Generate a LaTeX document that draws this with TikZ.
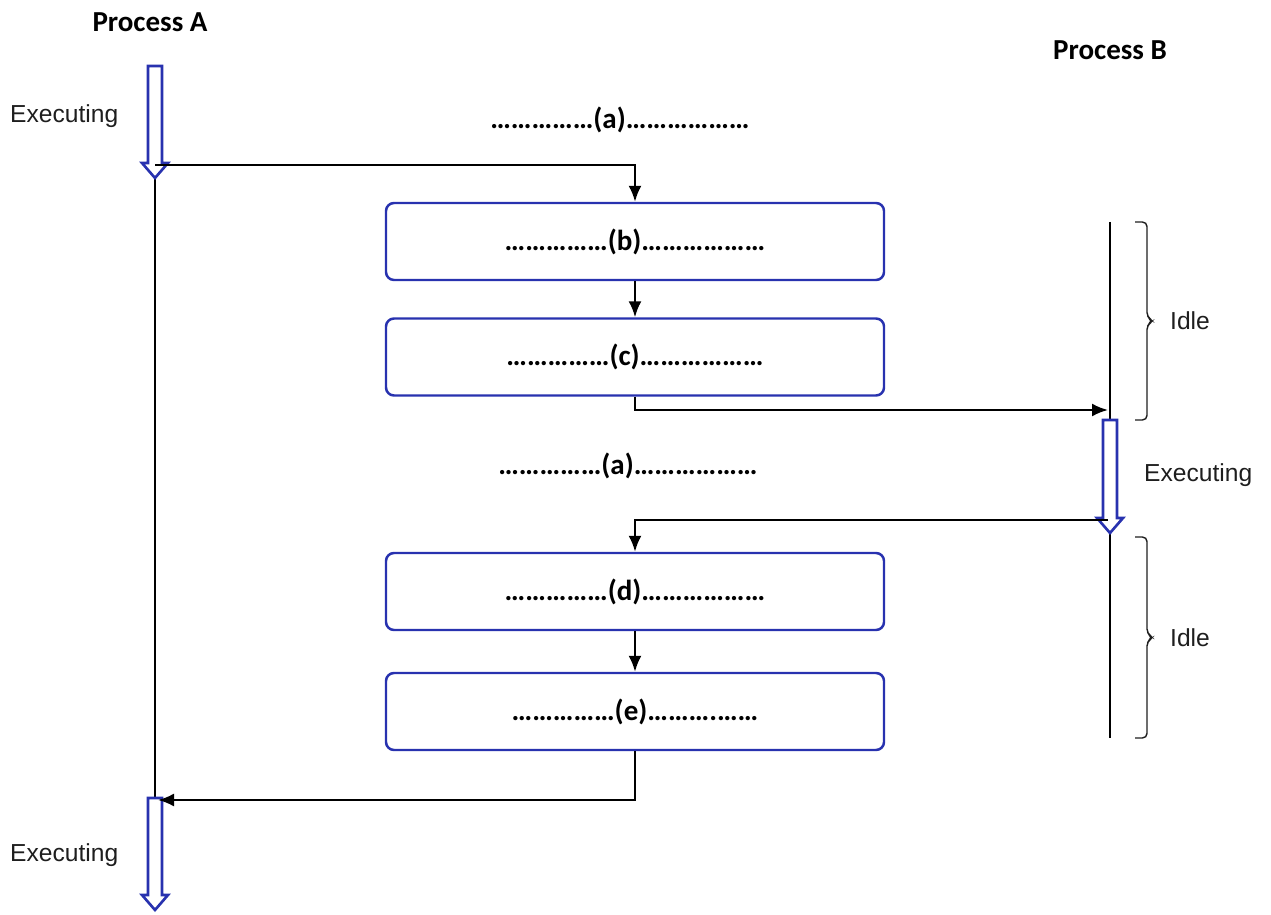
\documentclass[tikz,border=0pt]{standalone}
\usepackage{fontspec}
\setmainfont{Carlito}
\newfontfamily\arialfont{Liberation Sans}
\usetikzlibrary{arrows.meta}
\definecolor{procblue}{RGB}{40,50,175}
\definecolor{ink}{RGB}{30,30,30}

\begin{document}
\begin{tikzpicture}[x=0.2mm, y=-0.2mm,
    box/.style={draw=procblue, line width=1.4pt, rounded corners=1.6mm, fill=white,
                minimum width=99.6mm, minimum height=15.4mm, inner sep=0pt,
                font=\bfseries\fontsize{16.5}{19}\selectfont},
    lab/.style={font=\bfseries\fontsize{16.5}{19}\selectfont},
    state/.style={font=\arialfont\fontsize{14}{16}\selectfont, color=ink, anchor=west},
    conn/.style={draw=black, line width=1.25pt, -{Latex[length=3.2mm,width=2.6mm]}},
    tl/.style={draw=black, line width=1.25pt},
    brk/.style={draw=ink, line width=0.8pt, rounded corners=0.9mm},
    hollow/.style={draw=procblue, line width=1.5pt, fill=white, line join=miter}]
  \useasboundingbox (0,0) rectangle (1271,915);
  % time lines of the two processes
  \draw[tl] (155,178) -- (155,800);
  \draw[tl] (1110,222) -- (1110,738);
  \node[lab] (pa) at (150,22) {Process A};
  \node[lab] (pb) at (1110,50) {Process B};
  % executing phases
  \foreach \x/\ya/\yb in {155/66/178, 1110/420/533, 155/798/910} {
    \draw[hollow] (\x-7,\ya) -- (\x+7,\ya) -- (\x+7,\yb-15) -- (\x+13,\yb-15)
      -- (\x,\yb) -- (\x-13,\yb-15) -- (\x-7,\yb-15) -- cycle;
  }
  \node[state] (ea1) at (4,116) {Executing};
  \node[state] (eb)  at (1138,475) {Executing};
  \node[state] (ea2) at (4,855) {Executing};
  % idle brackets of process B
  \foreach \ya/\yb in {222/420, 537/738} {
    \pgfmathsetmacro\ym{(\ya+\yb)/2}
    \draw[brk] (1135,\ya) -- (1147,\ya) -- (1147,\ym-4) -- (1153,\ym)
      -- (1147,\ym+4) -- (1147,\yb) -- (1135,\yb);
    \node[state] at (1164,\ym) {Idle};
  }
  % steps
  \node[lab] (a1) at (620,120) {……………(a)………………};
  \node[box] (b) at (635,241.5) {……………(b)………………};
  \node[box] (c) at (635,357) {……………(c)………………};
  \node[lab] (a2) at (628,466) {……………(a)………………};
  \node[box] (d) at (635,591.5) {……………(d)………………};
  \node[box] (e) at (635,711.5) {……………(e)……….……};
  \coordinate (aout) at (155,165);
  \coordinate (bin)  at (1108,410);
  \coordinate (bout) at (1108,520);
  \coordinate (ain)  at (158,800);
  \draw[conn] (aout) -| (b.north);
  \draw[conn] (b) -- (c);
  \draw[conn] (c.south) |- (bin);
  \draw[conn] (bout) -| (d.north);
  \draw[conn] (d) -- (e);
  \draw[conn] (e.south) |- (ain);
\end{tikzpicture}
\end{document}
